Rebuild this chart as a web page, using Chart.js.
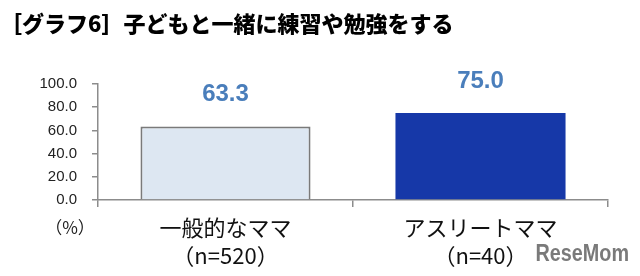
<!DOCTYPE html>
<html>
<head>
<meta charset="utf-8">
<script src="https://cdn.jsdelivr.net/npm/chart.js@4"></script>
<style>
  html, body { margin: 0; padding: 0; background: #fff; }
  #wrap { width: 640px; height: 276px; }
</style>
</head>
<body>
<div id="wrap"><canvas id="myChart" width="640" height="276"></canvas></div>
<script>
// データ
const titleText = '［グラフ6］子どもと一緒に練習や勉強をする';
const categories = [['一般的なママ', '（n=520）'], ['アスリートママ', '（n=40）']];
const values = [63.3, 75.0];
const yTicks = [0, 20, 40, 60, 80, 100];
const unitLabel = '（%）';
const watermark = 'ReseMom';

const jpFont = '"Noto Sans CJK JP", "Noto Sans", sans-serif';
const numFont = '"Liberation Sans", Arial, sans-serif';

// タイトル・値ラベル・単位の描画
const extras = {
  id: 'extras',
  afterDatasetsDraw(chart) {
    const ctx = chart.ctx;
    const meta = chart.getDatasetMeta(0);
    ctx.save();
    ctx.fillStyle = '#4a7ebb';
    ctx.font = 'bold 24px ' + numFont;
    ctx.textAlign = 'center';
    ctx.textBaseline = 'middle';
    meta.data.forEach((bar, i) => {
      ctx.fillText(values[i].toFixed(1), bar.x, bar.y - 32);
    });

    ctx.fillStyle = '#000';
    ctx.font = '900 22px ' + jpFont;
    ctx.textAlign = 'left';
    ctx.fillText(titleText, 0, 24);

    ctx.fillStyle = '#222';
    ctx.font = '17px ' + jpFont;
    ctx.textAlign = 'center';
    ctx.fillText(unitLabel, 70, 228);

    // 透かし（横に少し詰める）
    ctx.fillStyle = '#7a7a7a';
    ctx.font = 'bold 23px ' + numFont;
    ctx.textAlign = 'right';
    ctx.translate(629, 255);
    ctx.scale(0.86, 1);
    ctx.fillText(watermark, 0, 0);
    ctx.restore();
  }
};

const canvas = document.getElementById('myChart');
const chart = new Chart(canvas, {
  type: 'bar',
  data: {
    labels: categories,
    datasets: [{
      data: values,
      backgroundColor: ['#dde7f2', '#1638a8'],
      borderColor: ['#7a7a7a', '#1638a8'],
      borderWidth: [2, 0],
      barPercentage: 1,
      categoryPercentage: 0.667
    }]
  },
  options: {
    responsive: false,
    animation: false,
    layout: { padding: { top: 84, right: 32, left: 0, bottom: 0 } },
    plugins: { legend: { display: false }, tooltip: { enabled: false } },
    scales: {
      x: {
        offset: true,
        border: { color: '#8c8c8c', width: 1.5 },
        grid: { offset: true, drawOnChartArea: false, drawTicks: true, tickLength: 7, color: '#8c8c8c', lineWidth: 1.5 },
        ticks: {
          color: '#111',
          font: { family: jpFont, size: 22, lineHeight: 1.3 },
          padding: 6,
          maxRotation: 0
        },
        afterFit(scale) { scale.height = 76; }
      },
      y: {
        min: 0,
        max: 100,
        afterBuildTicks(scale) { scale.ticks = yTicks.map(v => ({ value: v })); },
        border: { color: '#8c8c8c', width: 1.5 },
        grid: { drawOnChartArea: false, drawTicks: true, tickLength: 6, color: '#8c8c8c', lineWidth: 1.5 },
        ticks: {
          color: '#222',
          font: { family: numFont, size: 15 },
          padding: 15,
          callback: v => v.toFixed(1)
        },
        afterFit(scale) { scale.width = 98; }
      }
    }
  },
  plugins: [extras]
});
</script>
</body>
</html>
